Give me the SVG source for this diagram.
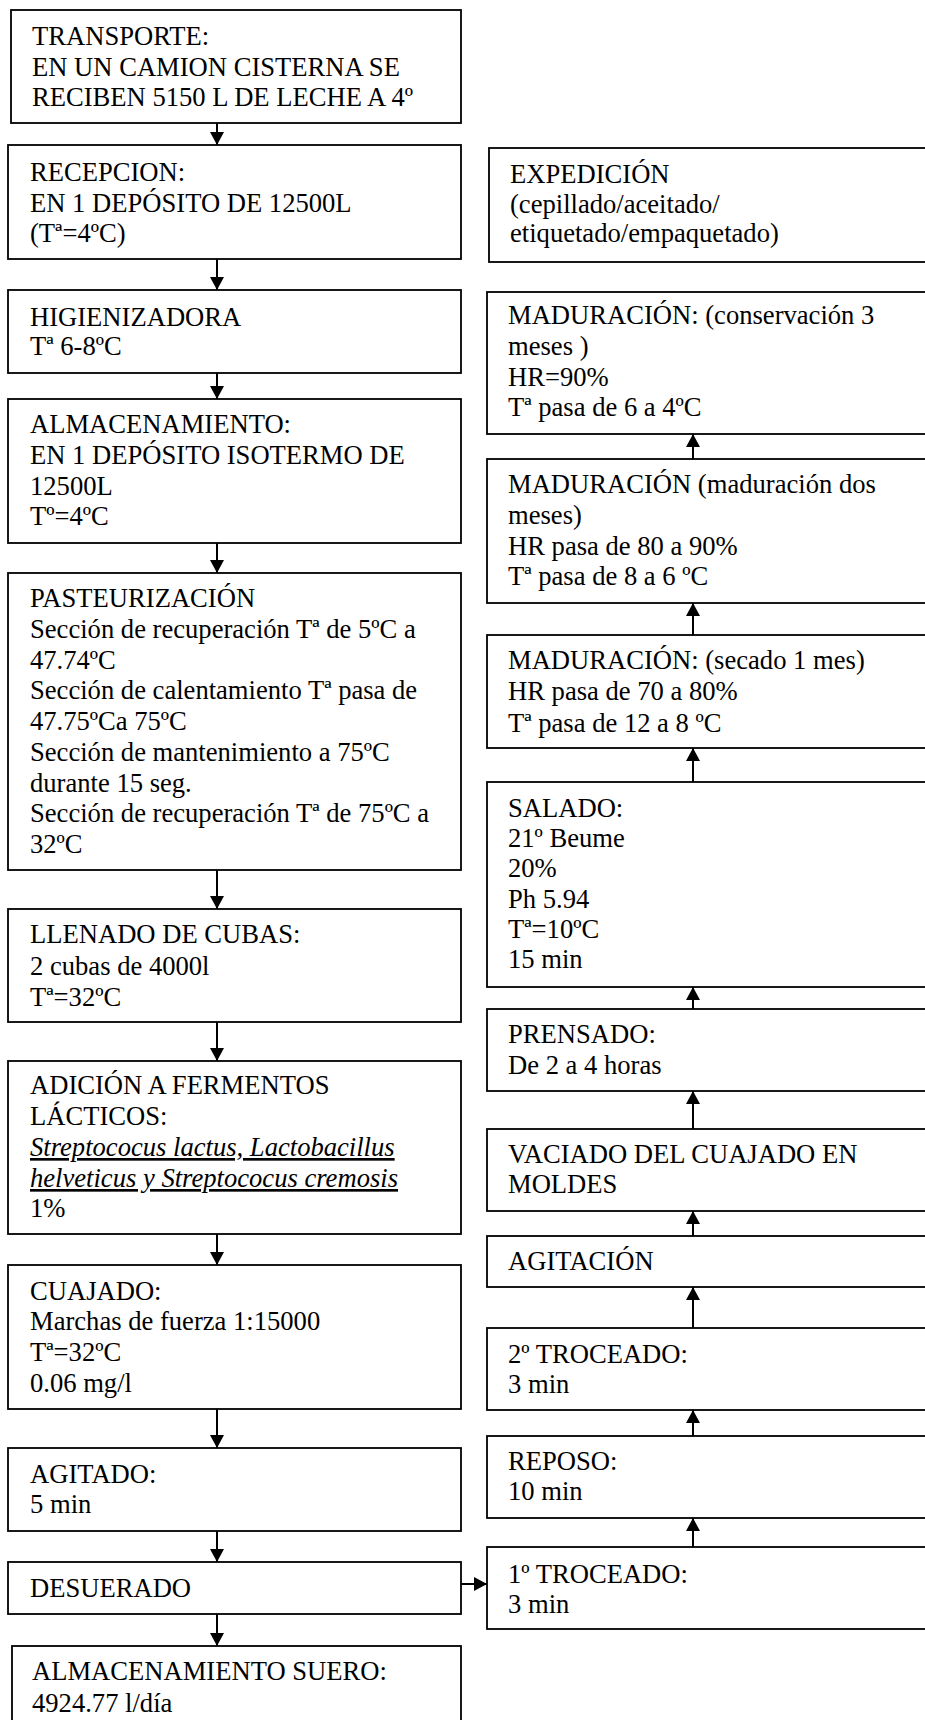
<svg xmlns="http://www.w3.org/2000/svg" width="925" height="1720" viewBox="0 0 925 1720">
<style>
  .box { fill: #fff; stroke: #000; stroke-width: 1.8; }
  .t { font-family: "Liberation Serif", "Times New Roman", serif; font-size: 26.6px; fill: #000; }
  .it { font-style: italic; text-decoration: underline; }
  .conn { stroke: #000; stroke-width: 2; fill: none; marker-end: url(#ah); }
</style>
<defs>
  <marker id="ah" viewBox="0 0 13 14" refX="13" refY="7" markerWidth="13" markerHeight="14" markerUnits="userSpaceOnUse" orient="auto">
    <path d="M0,0 L13,7 L0,14 Z" fill="#000"/>
  </marker>
</defs>
<rect width="925" height="1720" fill="#fff"/>

<g id="transporte">
  <rect class="box" x="11" y="10" width="450" height="113"/>
  <text class="t" x="32" y="45">TRANSPORTE:</text>
  <text class="t" x="32" y="76">EN UN CAMION CISTERNA SE</text>
  <text class="t" x="32" y="106">RECIBEN 5150 L DE LECHE A 4º</text>
</g>
<g id="recepcion">
  <rect class="box" x="8" y="145" width="453" height="114"/>
  <text class="t" x="30" y="181">RECEPCION:</text>
  <text class="t" x="30" y="212">EN 1 DEPÓSITO DE 12500L</text>
  <text class="t" x="30" y="242">(Tª=4ºC)</text>
</g>
<g id="higienizadora">
  <rect class="box" x="8" y="290" width="453" height="83"/>
  <text class="t" x="30" y="326">HIGIENIZADORA</text>
  <text class="t" x="30" y="355">Tª 6-8ºC</text>
</g>
<g id="almacenamiento">
  <rect class="box" x="8" y="399" width="453" height="144"/>
  <text class="t" x="30" y="433">ALMACENAMIENTO:</text>
  <text class="t" x="30" y="464">EN 1 DEPÓSITO ISOTERMO DE</text>
  <text class="t" x="30" y="495">12500L</text>
  <text class="t" x="30" y="525">Tº=4ºC</text>
</g>
<g id="pasteurizacion">
  <rect class="box" x="8" y="573" width="453" height="297"/>
  <text class="t" x="30" y="607">PASTEURIZACIÓN</text>
  <text class="t" x="30" y="638">Sección de recuperación Tª de 5ºC a</text>
  <text class="t" x="30" y="669">47.74ºC</text>
  <text class="t" x="30" y="699">Sección de calentamiento Tª pasa de</text>
  <text class="t" x="30" y="730">47.75ºCa 75ºC</text>
  <text class="t" x="30" y="761">Sección de mantenimiento a 75ºC</text>
  <text class="t" x="30" y="792">durante 15 seg.</text>
  <text class="t" x="30" y="822">Sección de recuperación Tª de 75ºC a</text>
  <text class="t" x="30" y="853">32ºC</text>
</g>
<g id="llenado">
  <rect class="box" x="8" y="909" width="453" height="113"/>
  <text class="t" x="30" y="943">LLENADO DE CUBAS:</text>
  <text class="t" x="30" y="975">2 cubas de 4000l</text>
  <text class="t" x="30" y="1006">Tª=32ºC</text>
</g>
<g id="adicion">
  <rect class="box" x="8" y="1061" width="453" height="173"/>
  <text class="t" x="30" y="1094">ADICIÓN A FERMENTOS</text>
  <text class="t" x="30" y="1125">LÁCTICOS:</text>
  <text class="t it" x="30" y="1156">Streptococus lactus, Lactobacillus</text>
  <text class="t it" x="30" y="1187">helveticus y Streptococus cremosis</text>
  <text class="t" x="30" y="1217">1%</text>
</g>
<g id="cuajado">
  <rect class="box" x="8" y="1265" width="453" height="144"/>
  <text class="t" x="30" y="1300">CUAJADO:</text>
  <text class="t" x="30" y="1330">Marchas de fuerza 1:15000</text>
  <text class="t" x="30" y="1361">Tª=32ºC</text>
  <text class="t" x="30" y="1392">0.06 mg/l</text>
</g>
<g id="agitado">
  <rect class="box" x="8" y="1448" width="453" height="83"/>
  <text class="t" x="30" y="1483">AGITADO:</text>
  <text class="t" x="30" y="1513">5 min</text>
</g>
<g id="desuerado">
  <rect class="box" x="8" y="1562" width="453" height="52"/>
  <text class="t" x="30" y="1597">DESUERADO</text>
</g>
<g id="almacenamiento-suero">
  <rect class="box" x="12" y="1646" width="449" height="90"/>
  <text class="t" x="32" y="1680">ALMACENAMIENTO SUERO:</text>
  <text class="t" x="32" y="1712">4924.77 l/día</text>
</g>

<g id="expedicion">
  <rect class="box" x="489" y="148" width="450" height="114"/>
  <text class="t" x="510" y="183">EXPEDICIÓN</text>
  <text class="t" x="510" y="213">(cepillado/aceitado/</text>
  <text class="t" x="510" y="242">etiquetado/empaquetado)</text>
</g>
<g id="maduracion3">
  <rect class="box" x="487" y="292" width="452" height="142"/>
  <text class="t" x="508" y="324">MADURACIÓN: (conservación 3</text>
  <text class="t" x="508" y="355">meses )</text>
  <text class="t" x="508" y="386">HR=90%</text>
  <text class="t" x="508" y="416">Tª pasa de 6 a 4ºC</text>
</g>
<g id="maduracion2">
  <rect class="box" x="487" y="459" width="452" height="144"/>
  <text class="t" x="508" y="493">MADURACIÓN (maduración dos</text>
  <text class="t" x="508" y="524">meses)</text>
  <text class="t" x="508" y="555">HR pasa de 80 a 90%</text>
  <text class="t" x="508" y="585">Tª pasa de 8 a 6 ºC</text>
</g>
<g id="maduracion1">
  <rect class="box" x="487" y="635" width="452" height="113"/>
  <text class="t" x="508" y="669">MADURACIÓN: (secado 1 mes)</text>
  <text class="t" x="508" y="700">HR pasa de 70 a 80%</text>
  <text class="t" x="508" y="732">Tª pasa de 12 a 8 ºC</text>
</g>
<g id="salado">
  <rect class="box" x="487" y="782" width="452" height="205"/>
  <text class="t" x="508" y="817">SALADO:</text>
  <text class="t" x="508" y="847">21º Beume</text>
  <text class="t" x="508" y="877">20%</text>
  <text class="t" x="508" y="908">Ph 5.94</text>
  <text class="t" x="508" y="938">Tª=10ºC</text>
  <text class="t" x="508" y="968">15 min</text>
</g>
<g id="prensado">
  <rect class="box" x="487" y="1009" width="452" height="82"/>
  <text class="t" x="508" y="1043">PRENSADO:</text>
  <text class="t" x="508" y="1074">De 2 a 4 horas</text>
</g>
<g id="vaciado">
  <rect class="box" x="487" y="1129" width="452" height="82"/>
  <text class="t" x="508" y="1163">VACIADO DEL CUAJADO EN</text>
  <text class="t" x="508" y="1193">MOLDES</text>
</g>
<g id="agitacion">
  <rect class="box" x="487" y="1236" width="452" height="51"/>
  <text class="t" x="508" y="1270">AGITACIÓN</text>
</g>
<g id="troceado2">
  <rect class="box" x="487" y="1328" width="452" height="82"/>
  <text class="t" x="508" y="1363">2º TROCEADO:</text>
  <text class="t" x="508" y="1393">3 min</text>
</g>
<g id="reposo">
  <rect class="box" x="487" y="1436" width="452" height="82"/>
  <text class="t" x="508" y="1470">REPOSO:</text>
  <text class="t" x="508" y="1500">10 min</text>
</g>
<g id="troceado1">
  <rect class="box" x="487" y="1547" width="452" height="82"/>
  <text class="t" x="508" y="1583">1º TROCEADO:</text>
  <text class="t" x="508" y="1613">3 min</text>
</g>

<g id="connectors">
  <line class="conn" x1="217" y1="123" x2="217" y2="145"/>
  <line class="conn" x1="217" y1="259" x2="217" y2="290"/>
  <line class="conn" x1="217" y1="373" x2="217" y2="399"/>
  <line class="conn" x1="217" y1="543" x2="217" y2="573"/>
  <line class="conn" x1="217" y1="870" x2="217" y2="909"/>
  <line class="conn" x1="217" y1="1022" x2="217" y2="1061"/>
  <line class="conn" x1="217" y1="1234" x2="217" y2="1265"/>
  <line class="conn" x1="217" y1="1409" x2="217" y2="1448"/>
  <line class="conn" x1="217" y1="1531" x2="217" y2="1562"/>
  <line class="conn" x1="217" y1="1614" x2="217" y2="1646"/>
  <line class="conn" x1="461" y1="1584" x2="487" y2="1584"/>
  <line class="conn" x1="693" y1="1547" x2="693" y2="1518"/>
  <line class="conn" x1="693" y1="1436" x2="693" y2="1410"/>
  <line class="conn" x1="693" y1="1328" x2="693" y2="1287"/>
  <line class="conn" x1="693" y1="1236" x2="693" y2="1211"/>
  <line class="conn" x1="693" y1="1129" x2="693" y2="1091"/>
  <line class="conn" x1="693" y1="1009" x2="693" y2="987"/>
  <line class="conn" x1="693" y1="782" x2="693" y2="748"/>
  <line class="conn" x1="693" y1="635" x2="693" y2="603"/>
  <line class="conn" x1="693" y1="459" x2="693" y2="434"/>
</g>
</svg>
